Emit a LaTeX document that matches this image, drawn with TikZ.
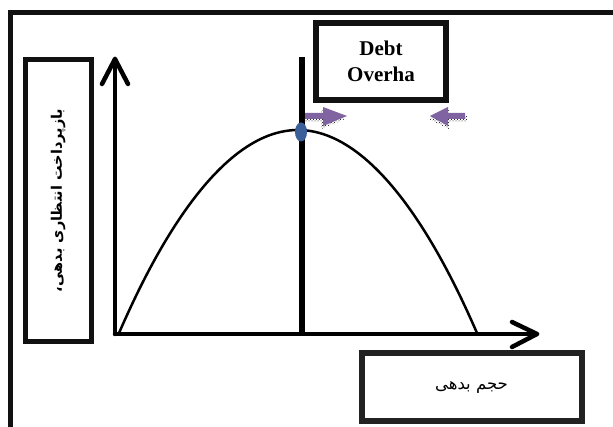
\documentclass[tikz,border=0pt]{standalone}
\usepackage{fontspec}
\setmainfont{Liberation Serif}
\newfontfamily\arabicfont[Script=Arabic]{DejaVu Sans}
\TeXXeTstate=1
\usetikzlibrary{shapes.geometric,patterns}
\definecolor{frameblack}{HTML}{111111}
\definecolor{boxgray}{HTML}{222222}
\definecolor{arrowpurple}{HTML}{8064A2}
\definecolor{dotblue}{HTML}{3A5F99}
\tikzset{
  framebox/.style={draw=frameblack, line width=5pt, fill=white, inner sep=0pt, align=center},
  axisline/.style={draw=black, line width=4.5pt, line cap=round, line join=round},
  chevron/.style={draw=black, line width=4.5pt, line cap=round, line join=round},
  curveline/.style={draw=black, line width=2.5pt},
  blockarrow/.style={fill=arrowpurple},
  arrowshadow/.style={pattern=crosshatch dots, pattern color=black}
}
\begin{document}
\begin{tikzpicture}[x=1pt,y=-1pt]
\useasboundingbox (0,0) rectangle (613,427);
\clip (0,0) rectangle (613,427);
\fill[white] (0,0) rectangle (613,427);
% outer frame (runs past the right and bottom edges)
\draw[draw=frameblack, line width=5pt] (10,13) rectangle (650,470);

% left label box
\node[framebox, line width=4.5pt, minimum width=66pt, minimum height=282pt] (ylabel) at (58.25,200.5)
  {\rotatebox{90}{\arabicfont\bfseries\fontsize{14.5}{17}\selectfont\beginR بازپرداخت انتظاری بدهی،\endR}};

% debt box
\node[framebox, line width=6pt, minimum width=130pt, minimum height=77pt,
      font=\fontsize{21}{26}\selectfont\bfseries] (debt) at (381,61.5)
  {Debt\\Overha};

% bottom label box
\node[framebox, draw=boxgray, line width=6pt, minimum width=220pt, minimum height=67pt,
      font=\arabicfont\fontsize{16.5}{20}\selectfont] (xlabel) at (471.5,387)
  {\beginR حجم بدهی\endR};

% axes
\coordinate (origin) at (115,334);
\coordinate (ytip) at (115,59);
\coordinate (xtip) at (537,334);
\draw[axisline] (origin) -- (ytip);
\draw[axisline] (origin) -- (xtip);
\draw[chevron] (102,84) -- (ytip) -- (128,84);
\draw[chevron] (512,322) -- (xtip) -- (512,347);

% vertical line
\coordinate (vtop) at (301.5,57);
\coordinate (vbot) at (301.5,334);
\draw[draw=black, line width=6pt] (vtop) -- (vbot);

% curve
\coordinate (cstart) at (119,333);
\coordinate (cpeak) at (298,130);
\coordinate (cend) at (477,333);
\draw[curveline] (cstart) parabola bend (cpeak) (cend);

% dot
\node[ellipse, fill=dotblue, minimum width=12pt, minimum height=19pt, inner sep=0pt] (dot) at (301,132) {};

% purple block arrows with dotted shadows
\fill[arrowshadow] (303,116) -- (321,116) -- (321,110) -- (345,119) -- (321,129) -- (321,122) -- (303,122) -- cycle;
\fill[blockarrow] (305,113) -- (323,113) -- (323,107) -- (347,116) -- (323,126) -- (323,119) -- (305,119) -- cycle;
\fill[arrowshadow] (467,116) -- (449,116) -- (449,110) -- (429,119) -- (449,129) -- (449,122) -- (467,122) -- cycle;
\fill[blockarrow] (465,113) -- (448,113) -- (448,107) -- (430,116) -- (448,126) -- (448,119) -- (465,119) -- cycle;
\end{tikzpicture}
\end{document}
